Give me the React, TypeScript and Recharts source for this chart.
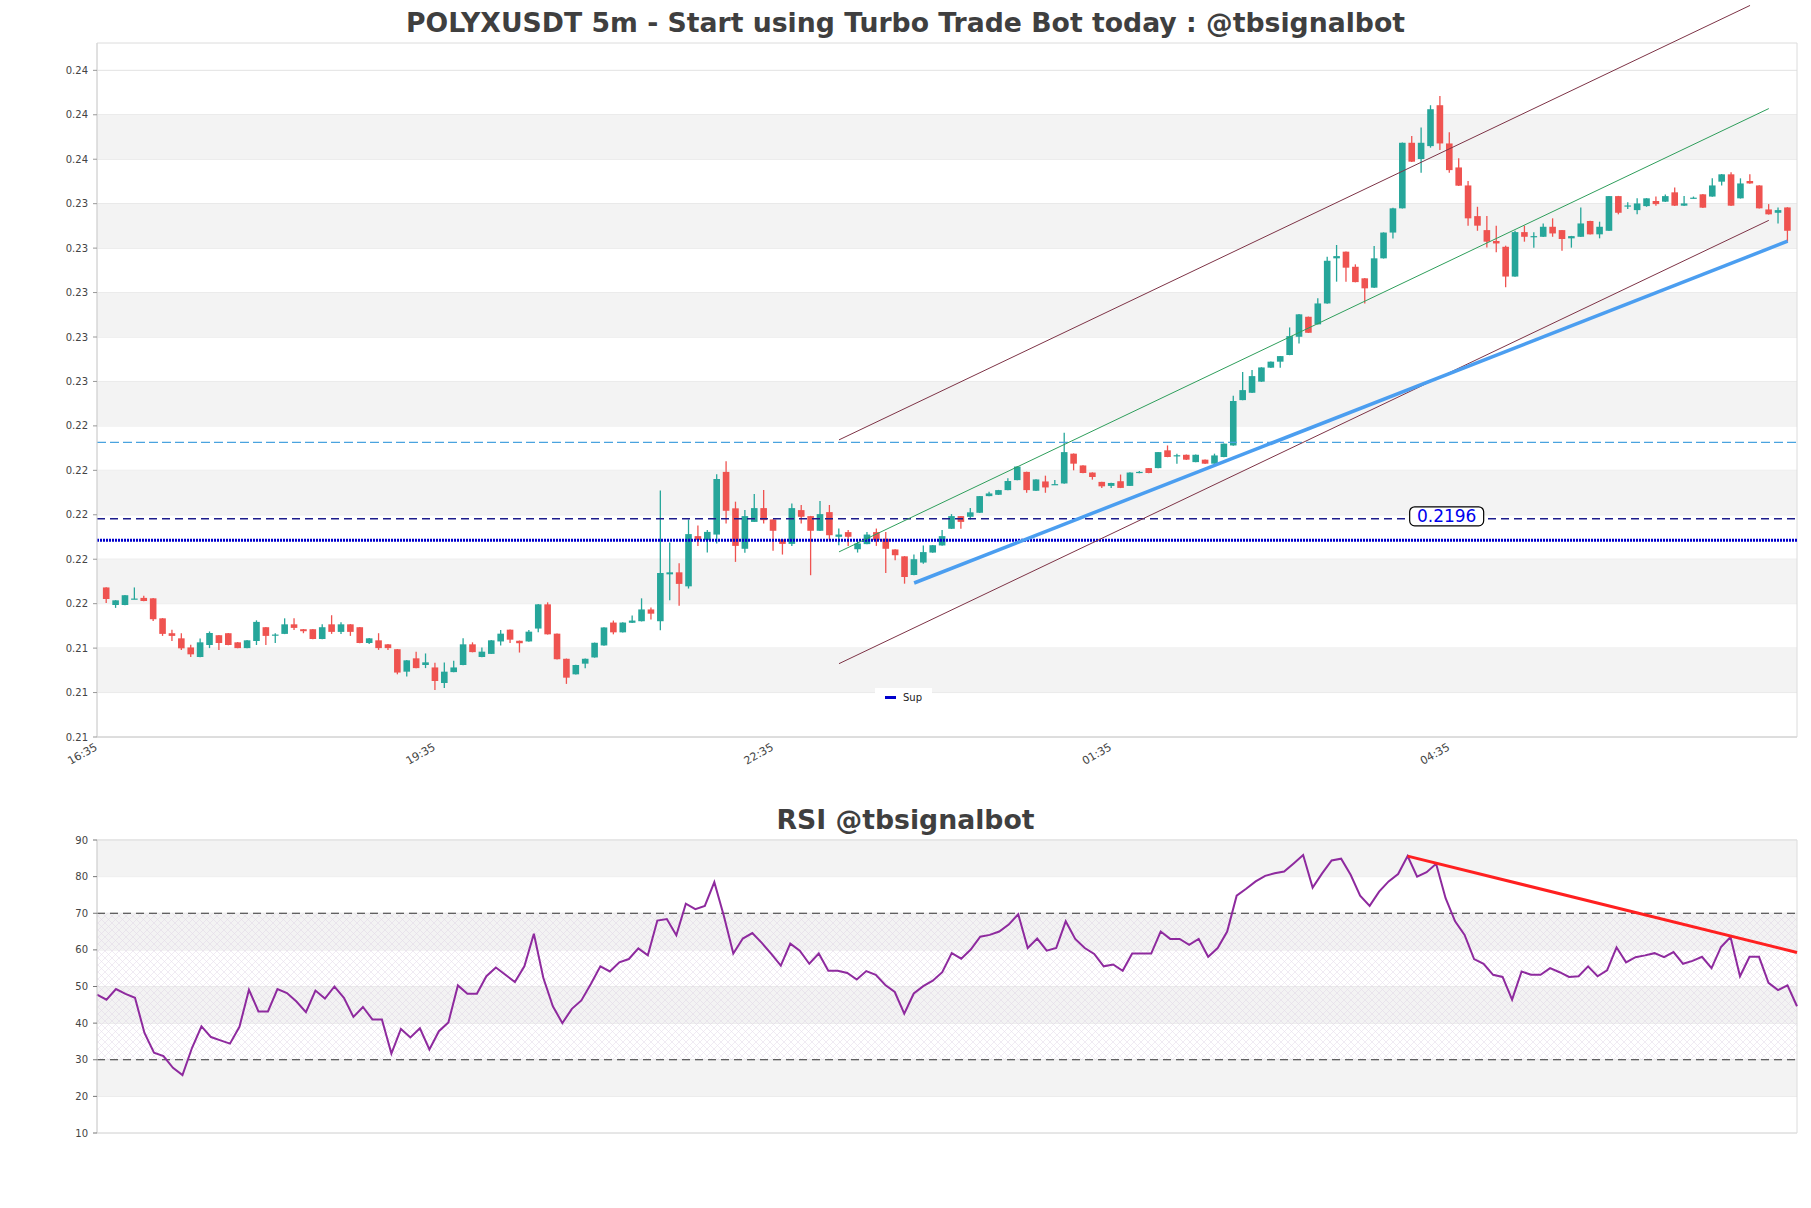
import React from 'react';
import {
  ComposedChart, Bar, Line, XAxis, YAxis, CartesianGrid,
  ReferenceLine, ReferenceArea, ReferenceDot, Legend,
} from 'recharts';

// 5m candles, index 0 = 16:40
const opens = [
  0.21651, 0.21572, 0.21572, 0.21599, 0.21604, 0.21602, 0.21512, 0.21445, 0.21422, 0.21381,
  0.21338, 0.21392, 0.21436, 0.21445, 0.21404, 0.21378, 0.21410, 0.21472, 0.21437, 0.21442,
  0.21485, 0.21463, 0.21463, 0.21419, 0.21485, 0.21451, 0.21485, 0.21472, 0.21401, 0.21413,
  0.21395, 0.21373, 0.21272, 0.21332, 0.21302, 0.21291, 0.21221, 0.21270, 0.21302, 0.21395,
  0.21338, 0.21352, 0.21408, 0.21461, 0.21411, 0.21408, 0.21466, 0.21575, 0.21443, 0.21330,
  0.21260, 0.21308, 0.21336, 0.21390, 0.21493, 0.21449, 0.21492, 0.21499, 0.21552, 0.21499,
  0.21710, 0.21719, 0.21656, 0.21882, 0.21864, 0.21889, 0.22171, 0.22007, 0.21825, 0.21946,
  0.22008, 0.21957, 0.21867, 0.21847, 0.21999, 0.21972, 0.21906, 0.21990, 0.21879, 0.21900,
  0.21823, 0.21846, 0.21900, 0.21870, 0.21822, 0.21791, 0.21707, 0.21763, 0.21808, 0.21840,
  0.21915, 0.21972, 0.21969, 0.21987, 0.22062, 0.22068, 0.22089, 0.22134, 0.22171, 0.22086,
  0.22128, 0.22114, 0.22119, 0.22253, 0.22200, 0.22168, 0.22126, 0.22108, 0.22129, 0.22108,
  0.22166, 0.22188, 0.22188, 0.22268, 0.22244, 0.22248, 0.22215, 0.22226, 0.22208, 0.22238,
  0.22290, 0.22494, 0.22527, 0.22577, 0.22640, 0.22667, 0.22697, 0.22779, 0.22869, 0.22835,
  0.22929, 0.23132, 0.23162, 0.23094, 0.23042, 0.23000, 0.23132, 0.23248, 0.23357, 0.23652,
  0.23579, 0.23637, 0.23821, 0.23649, 0.23541, 0.23460, 0.23322, 0.23259, 0.23210, 0.23184,
  0.23050, 0.23250, 0.23229, 0.23229, 0.23274, 0.23259, 0.23222, 0.23229, 0.23300, 0.23240,
  0.23256, 0.23412, 0.23367, 0.23349, 0.23367, 0.23390, 0.23387, 0.23429, 0.23369, 0.23403,
  0.23420, 0.23410, 0.23477, 0.23510, 0.23402, 0.23480, 0.23460, 0.23352, 0.23337, 0.23361,
];
const highs = [
  0.21652, 0.21594, 0.21617, 0.21651, 0.21614, 0.21603, 0.21513, 0.21461, 0.21445, 0.21393,
  0.21421, 0.21453, 0.21437, 0.21446, 0.21405, 0.21414, 0.21503, 0.21473, 0.21445, 0.21512,
  0.21512, 0.21464, 0.21464, 0.21485, 0.21526, 0.21494, 0.21486, 0.21473, 0.21423, 0.21445,
  0.21396, 0.21374, 0.21324, 0.21362, 0.21354, 0.21312, 0.21313, 0.21321, 0.21422, 0.21404,
  0.21381, 0.21414, 0.21460, 0.21462, 0.21412, 0.21460, 0.21576, 0.21584, 0.21444, 0.21331,
  0.21303, 0.21331, 0.21403, 0.21472, 0.21502, 0.21494, 0.21525, 0.21602, 0.21561, 0.22087,
  0.21853, 0.21760, 0.21957, 0.21930, 0.21909, 0.22160, 0.22219, 0.22037, 0.21999, 0.22071,
  0.22089, 0.21958, 0.21868, 0.22029, 0.22022, 0.21973, 0.22040, 0.22022, 0.21916, 0.21909,
  0.21861, 0.21901, 0.21916, 0.21901, 0.21823, 0.21792, 0.21799, 0.21840, 0.21842, 0.21909,
  0.21981, 0.21973, 0.22008, 0.22063, 0.22082, 0.22090, 0.22142, 0.22196, 0.22172, 0.22138,
  0.22154, 0.22134, 0.22347, 0.22254, 0.22201, 0.22169, 0.22127, 0.22122, 0.22159, 0.22169,
  0.22175, 0.22189, 0.22261, 0.22290, 0.22253, 0.22249, 0.22249, 0.22227, 0.22253, 0.22299,
  0.22514, 0.22620, 0.22629, 0.22642, 0.22668, 0.22693, 0.22821, 0.22881, 0.22870, 0.22952,
  0.23139, 0.23192, 0.23163, 0.23105, 0.23043, 0.23187, 0.23249, 0.23360, 0.23653, 0.23682,
  0.23721, 0.23821, 0.23863, 0.23699, 0.23582, 0.23480, 0.23364, 0.23322, 0.23279, 0.23189,
  0.23256, 0.23279, 0.23249, 0.23289, 0.23312, 0.23260, 0.23233, 0.23361, 0.23301, 0.23297,
  0.23413, 0.23413, 0.23384, 0.23402, 0.23403, 0.23410, 0.23419, 0.23451, 0.23412, 0.23410,
  0.23421, 0.23492, 0.23511, 0.23519, 0.23492, 0.23510, 0.23461, 0.23376, 0.23361, 0.23362,
];
const lows = [
  0.21581, 0.21559, 0.21571, 0.21598, 0.21589, 0.21500, 0.21433, 0.21410, 0.21370, 0.21338,
  0.21337, 0.21378, 0.21370, 0.21391, 0.21377, 0.21377, 0.21392, 0.21392, 0.21401, 0.21441,
  0.21460, 0.21445, 0.21418, 0.21418, 0.21442, 0.21442, 0.21433, 0.21400, 0.21397, 0.21370,
  0.21370, 0.21260, 0.21250, 0.21287, 0.21288, 0.21189, 0.21198, 0.21269, 0.21301, 0.21359,
  0.21337, 0.21351, 0.21390, 0.21401, 0.21358, 0.21407, 0.21449, 0.21439, 0.21327, 0.21217,
  0.21259, 0.21287, 0.21335, 0.21389, 0.21440, 0.21448, 0.21491, 0.21498, 0.21507, 0.21458,
  0.21593, 0.21569, 0.21646, 0.21838, 0.21808, 0.21849, 0.21939, 0.21766, 0.21807, 0.21945,
  0.21939, 0.21816, 0.21799, 0.21838, 0.21939, 0.21706, 0.21905, 0.21864, 0.21841, 0.21838,
  0.21808, 0.21845, 0.21838, 0.21716, 0.21773, 0.21668, 0.21706, 0.21758, 0.21807, 0.21839,
  0.21914, 0.21915, 0.21957, 0.21986, 0.22061, 0.22067, 0.22088, 0.22133, 0.22077, 0.22085,
  0.22077, 0.22113, 0.22118, 0.22178, 0.22165, 0.22136, 0.22099, 0.22099, 0.22098, 0.22107,
  0.22165, 0.22165, 0.22187, 0.22237, 0.22208, 0.22225, 0.22214, 0.22207, 0.22207, 0.22237,
  0.22289, 0.22493, 0.22526, 0.22576, 0.22639, 0.22640, 0.22696, 0.22749, 0.22796, 0.22834,
  0.22928, 0.23027, 0.23027, 0.23024, 0.22929, 0.22999, 0.23131, 0.23221, 0.23356, 0.23566,
  0.23517, 0.23630, 0.23620, 0.23517, 0.23458, 0.23279, 0.23256, 0.23181, 0.23159, 0.23002,
  0.23049, 0.23207, 0.23180, 0.23228, 0.23229, 0.23166, 0.23180, 0.23228, 0.23239, 0.23222,
  0.23255, 0.23330, 0.23354, 0.23330, 0.23364, 0.23369, 0.23386, 0.23368, 0.23368, 0.23402,
  0.23359, 0.23409, 0.23460, 0.23368, 0.23401, 0.23468, 0.23356, 0.23329, 0.23289, 0.23207,
];
const closes = [
  0.21599, 0.21593, 0.21616, 0.21601, 0.21590, 0.21508, 0.21442, 0.21433, 0.21377, 0.21350,
  0.21404, 0.21446, 0.21401, 0.21392, 0.21378, 0.21413, 0.21496, 0.21433, 0.21439, 0.21485,
  0.21469, 0.21454, 0.21419, 0.21472, 0.21451, 0.21485, 0.21451, 0.21401, 0.21422, 0.21378,
  0.21378, 0.21268, 0.21323, 0.21288, 0.21314, 0.21230, 0.21272, 0.21291, 0.21395, 0.21360,
  0.21362, 0.21413, 0.21443, 0.21416, 0.21400, 0.21452, 0.21575, 0.21440, 0.21328, 0.21245,
  0.21302, 0.21330, 0.21402, 0.21471, 0.21449, 0.21493, 0.21502, 0.21552, 0.21533, 0.21716,
  0.21719, 0.21667, 0.21891, 0.21864, 0.21901, 0.22139, 0.21996, 0.21838, 0.21972, 0.22008,
  0.21954, 0.21906, 0.21847, 0.22008, 0.21969, 0.21906, 0.21981, 0.21886, 0.21889, 0.21879,
  0.21849, 0.21889, 0.21864, 0.21825, 0.21796, 0.21698, 0.21778, 0.21810, 0.21841, 0.21882,
  0.21972, 0.21946, 0.21989, 0.22062, 0.22074, 0.22089, 0.22130, 0.22195, 0.22089, 0.22137,
  0.22101, 0.22116, 0.22260, 0.22208, 0.22166, 0.22148, 0.22106, 0.22121, 0.22099, 0.22168,
  0.22171, 0.22166, 0.22260, 0.22238, 0.22246, 0.22226, 0.22248, 0.22208, 0.22245, 0.22298,
  0.22490, 0.22539, 0.22602, 0.22641, 0.22667, 0.22692, 0.22782, 0.22880, 0.22797, 0.22929,
  0.23121, 0.23142, 0.23090, 0.23025, 0.22997, 0.23132, 0.23248, 0.23357, 0.23652, 0.23567,
  0.23652, 0.23803, 0.23649, 0.23529, 0.23459, 0.23312, 0.23279, 0.23207, 0.23199, 0.23050,
  0.23250, 0.23229, 0.23232, 0.23274, 0.23244, 0.23219, 0.23232, 0.23289, 0.23240, 0.23274,
  0.23412, 0.23337, 0.23370, 0.23379, 0.23402, 0.23376, 0.23412, 0.23369, 0.23379, 0.23405,
  0.23360, 0.23460, 0.23510, 0.23369, 0.23469, 0.23469, 0.23357, 0.23330, 0.23349, 0.23256,
];

const rsiValues = [
  47.8, 46.4, 49.3, 48.0, 46.9, 37.3, 31.9, 31.0, 27.8, 25.8,
  33.2, 39.1, 36.2, 35.3, 34.4, 39.0, 49.1, 43.2, 43.2, 49.3,
  48.2, 45.9, 43.0, 48.9, 46.7, 50.0, 46.9, 41.7, 44.4, 41.0,
  41.0, 31.7, 38.4, 36.1, 38.6, 32.8, 37.8, 40.2, 50.3, 48.0,
  48.0, 52.8, 55.2, 53.2, 51.2, 55.5, 64.4, 52.3, 44.6, 40.0,
  43.9, 46.2, 50.7, 55.5, 54.1, 56.6, 57.5, 60.4, 58.5, 68.0,
  68.4, 64.0, 72.6, 71.1, 72.0, 78.5, 69.3, 59.0, 63.1, 64.6,
  61.9, 58.9, 55.7, 61.7, 59.8, 56.2, 59.0, 54.3, 54.3, 53.7,
  51.9, 54.2, 53.2, 50.4, 48.5, 42.6, 48.1, 50.1, 51.6, 53.9,
  59.1, 57.6, 60.1, 63.6, 64.1, 65.0, 66.9, 69.7, 60.5, 63.1,
  59.8, 60.5, 67.8, 63.0, 60.5, 58.9, 55.5, 56.0, 54.3, 59.0,
  59.0, 59.0, 65.0, 63.0, 63.0, 61.4, 63.0, 58.1, 60.5, 65.0,
  74.8, 76.7, 78.7, 80.2, 80.9, 81.4, 83.6, 85.9, 77.0, 80.9,
  84.4, 84.9, 80.5, 74.8, 72.0, 75.9, 78.7, 80.7, 85.6, 80.0,
  81.2, 83.5, 74.1, 67.8, 64.1, 57.5, 56.2, 53.2, 52.6, 46.4,
  54.1, 53.2, 53.2, 55.0, 53.9, 52.6, 52.8, 55.5, 52.8, 54.4,
  60.7, 56.6, 58.0, 58.5, 59.1, 58.0, 59.4, 56.2, 57.0, 58.1,
  55.0, 60.8, 63.5, 52.8, 58.1, 58.1, 51.0, 49.0, 50.3, 44.6,
];

const timeTickIdx = [-1, 35, 71, 107, 143];
const timeTickLabels = ['16:35', '19:35', '22:35', '01:35', '04:35'];
const priceTicks = [
  0.20978, 0.21178, 0.21378, 0.21578, 0.21778, 0.21978, 0.22178, 0.22378,
  0.22578, 0.22778, 0.22978, 0.23178, 0.23378, 0.23578, 0.23778, 0.23978,
];
const rsiTicks = [10, 15, 20, 25, 30, 35, 40, 45, 50, 55, 60, 65, 70, 75, 80, 85, 90];
const rsiGrid = [10, 20, 30, 40, 50, 60, 70, 80, 90];

// levels and drawn lines
const supLevel = 0.21863;
const pivotLevel = 0.2196;
const resistLevel = 0.22304;
const upperChannel = [{ x: 78, y: 0.22315 }, { x: 175, y: 0.24270 }];
const midChannel = [{ x: 78, y: 0.21811 }, { x: 177, y: 0.23806 }];
const lowerChannel = [{ x: 78, y: 0.21308 }, { x: 177, y: 0.23303 }];
const supportTrend = [{ x: 86, y: 0.21671 }, { x: 179, y: 0.23209 }];
const rsiTrend = [{ x: 138, y: 85.6 }, { x: 179, y: 59.3 }];

const candles = opens.map((o, i) => ({ i, open: o, high: highs[i], low: lows[i], close: closes[i] }));
const rsiData = rsiValues.map((v, i) => ({ i, rsi: v }));

const priceDomain = [0.20978, 0.24101];
const font = 'DejaVu Sans, sans-serif';

const Candle = (props: any) => {
  const { x, y, width, height, payload } = props;
  const top = Math.min(y, y + height);
  const h = Math.abs(height);
  const k = payload.high > payload.low ? h / (payload.high - payload.low) : 0;
  const yO = top + (payload.high - payload.open) * k;
  const yC = top + (payload.high - payload.close) * k;
  const color = payload.close >= payload.open ? '#26a69a' : '#ef5350';
  const cx = x + width / 2;
  const bw = 6.6;
  return (
    <g>
      <line x1={cx} x2={cx} y1={top} y2={top + h} stroke={color} strokeWidth={1.3} />
      <rect x={cx - bw / 2} y={Math.min(yO, yC)} width={bw} height={Math.max(Math.abs(yC - yO), 1.2)} fill={color} />
    </g>
  );
};

const TimeTick = (props: any) => {
  const { x, y, payload } = props;
  const label = timeTickLabels[timeTickIdx.indexOf(payload.value)];
  return (
    <g transform={`translate(${x - 2},${y - 1})`}>
      <text x={0} y={0} dy={6} textAnchor="end" transform="rotate(-30)" fontSize={11} fill="#444" fontFamily={font}>
        {label}
      </text>
    </g>
  );
};

const RsiTick = (props: any) => {
  const { x, y, payload } = props;
  if (payload.value % 10 !== 0) return null;
  return (
    <text x={x} y={y} dy={3.5} textAnchor="end" fontSize={10} fill="#444" fontFamily={font}>
      {payload.value}
    </text>
  );
};

const PivotLabel = (props: any) => {
  const { cx, cy } = props;
  return (
    <g>
      <rect x={cx - 37} y={cy - 12} width={74} height={19} rx={5} fill="#fff" stroke="#000" strokeWidth={1.2} />
      <text x={cx} y={cy + 3} textAnchor="middle" fontSize={17} fill="#0000ee" fontFamily={font}>
        {pivotLevel.toFixed(4)}
      </text>
    </g>
  );
};

const SupLegend = () => (
  <div style={{ background: '#fff', padding: '4px 10px', display: 'flex', alignItems: 'center', fontFamily: font, fontSize: 10, color: '#222' }}>
    <span style={{ display: 'inline-block', width: 11, height: 2.5, background: '#0000cc', marginRight: 7 }} />
    Sup
  </div>
);

const bandPairs = [1, 3, 5, 7, 9, 11, 13].map((i) => [priceTicks[i], priceTicks[i + 1]]);
const rsiBands = [[80, 90], [60, 70], [40, 50], [20, 30]];

const titleStyle: React.CSSProperties = {
  position: 'absolute', left: 0, width: 1811, textAlign: 'center', fontFamily: font,
  fontWeight: 'bold', fontSize: 26.7, color: '#3f3f3f', height: 30, lineHeight: '30px',
};

export default function App() {
  return (
    <div style={{ position: 'absolute', left: 0, top: 0, width: 1811, height: 1208, background: '#fff' }}>
      <div style={{ ...titleStyle, top: 8 }}>POLYXUSDT 5m - Start using Turbo Trade Bot today : @tbsignalbot</div>
      <div style={{ position: 'absolute', left: 0, top: 0 }}>
        <ComposedChart width={1811} height={790} data={candles} margin={{ top: 43, right: 14, bottom: 13, left: 37 }}>
          {bandPairs.map(([a, b], n) => (
            <ReferenceArea key={n} y1={a} y2={b} fill="#f3f3f3" fillOpacity={1} stroke="none" />
          ))}
          <CartesianGrid vertical={false} stroke="#e2e2e2" horizontalValues={priceTicks} />
          <XAxis
            type="number" dataKey="i" domain={[-1, 180]} ticks={timeTickIdx} allowDataOverflow
            tick={<TimeTick />} tickLine={false} axisLine={{ stroke: '#d4d4d4' }} height={40}
          />
          <YAxis
            domain={priceDomain} ticks={priceTicks} allowDataOverflow width={60}
            tickFormatter={(v: number) => v.toFixed(2)}
            tick={{ fontSize: 10, fill: '#444', fontFamily: font }}
            tickSize={4} tickMargin={5} tickLine={{ stroke: '#999' }} axisLine={{ stroke: '#d4d4d4' }}
          />
          <ReferenceArea x1={-1} x2={180} y1={priceDomain[0]} y2={priceDomain[1]} fill="none" stroke="#dcdcdc" />
          <Bar
            dataKey={(d: any) => [d.low, d.high]} shape={<Candle />} barSize={7}
            isAnimationActive={false} legendType="none"
          />
          <ReferenceLine y={resistLevel} stroke="#4aa3df" strokeDasharray="9 4" strokeWidth={1.3} />
          <ReferenceLine y={pivotLevel} stroke="#1c1c8c" strokeDasharray="8 5" strokeWidth={1.5} />
          <ReferenceLine y={supLevel} stroke="#0000cc" strokeDasharray="2 1" strokeWidth={3} />
          <ReferenceLine segment={upperChannel} stroke="#7d3346" strokeWidth={1} ifOverflow="visible" />
          <ReferenceLine segment={midChannel} stroke="#2e9e5b" strokeWidth={1} ifOverflow="visible" />
          <ReferenceLine segment={lowerChannel} stroke="#7d3346" strokeWidth={1} ifOverflow="visible" />
          <ReferenceLine segment={supportTrend} stroke="#4b9ef0" strokeWidth={3.5} ifOverflow="visible" />
          <ReferenceDot x={142.7} y={pivotLevel} r={0} shape={PivotLabel} ifOverflow="visible" />
          <Legend
            content={() => <SupLegend />} layout="horizontal" verticalAlign="middle" align="center"
            wrapperStyle={{ left: 875, top: 688, width: 'auto' }}
          />
        </ComposedChart>
      </div>
      <div style={{ ...titleStyle, top: 805 }}>RSI @tbsignalbot</div>
      <div style={{ position: 'absolute', left: 0, top: 790 }}>
        <ComposedChart width={1811} height={360} data={rsiData} margin={{ top: 50, right: 14, bottom: 17, left: 37 }}>
          <defs>
            <pattern id="rsiHatch" width={7} height={7} patternUnits="userSpaceOnUse">
              <path d="M0,0 L7,7 M7,0 L0,7" stroke="#dccfe2" strokeWidth={0.6} fill="none" />
            </pattern>
          </defs>
          {rsiBands.map(([a, b], n) => (
            <ReferenceArea key={n} y1={a} y2={b} fill="#f3f3f3" fillOpacity={1} stroke="none" />
          ))}
          <CartesianGrid vertical={false} stroke="#e2e2e2" horizontalValues={rsiGrid} />
          <ReferenceArea y1={30} y2={70} fill="url(#rsiHatch)" fillOpacity={0.7} stroke="none" />
          <XAxis type="number" dataKey="i" domain={[0, 179]} hide />
          <YAxis
            domain={[10, 90]} ticks={rsiTicks} width={60} tick={<RsiTick />}
            tickSize={4} tickMargin={5} tickLine={{ stroke: '#777' }} axisLine={{ stroke: '#d4d4d4' }}
          />
          <ReferenceArea x1={0} x2={179} y1={10} y2={90} fill="none" stroke="#dcdcdc" />
          <ReferenceLine y={70} stroke="#333" strokeDasharray="8 5" strokeWidth={1.2} />
          <ReferenceLine y={30} stroke="#333" strokeDasharray="8 5" strokeWidth={1.2} />
          <Line dataKey="rsi" stroke="#8e2a9e" strokeWidth={2} dot={false} isAnimationActive={false} />
          <ReferenceLine segment={rsiTrend} stroke="#ff2020" strokeWidth={3} />
        </ComposedChart>
      </div>
    </div>
  );
}
